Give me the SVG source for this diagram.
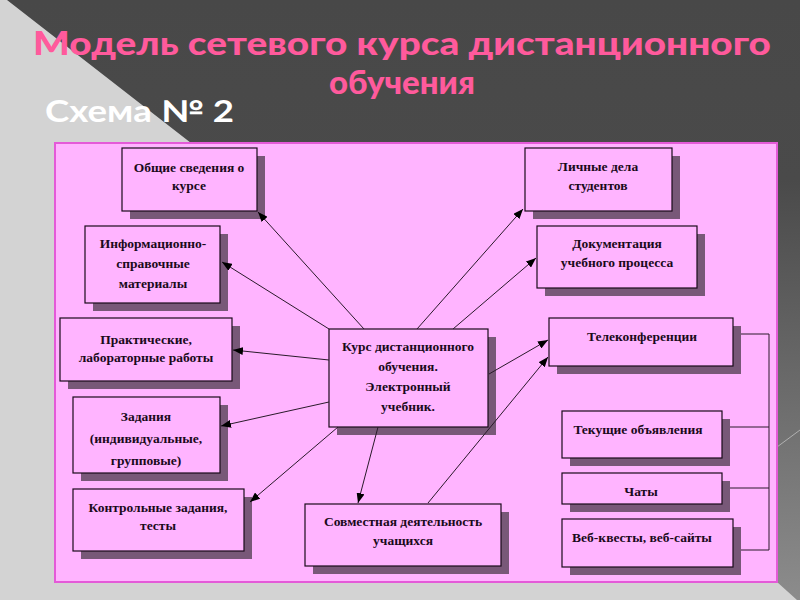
<svg xmlns="http://www.w3.org/2000/svg" width="800" height="600" viewBox="0 0 800 600">
<defs>
<style>
.box{fill:#ffb4ff;stroke:#1a0a1a;stroke-width:1.2}
.sh{fill:#785878}
.t{font-family:"Liberation Serif","Times New Roman",serif;font-size:13.5px;font-weight:bold;fill:#1a0a1a;text-anchor:middle}
.c{stroke:#2a1a2a;stroke-width:1;fill:none}
.ttl{font-family:Lato,"Open Sans",sans-serif;font-weight:900;fill:#ff5a9c;text-anchor:middle}
</style>
<marker id="ah" viewBox="0 0 10 8" refX="10" refY="4" markerWidth="10" markerHeight="8" markerUnits="userSpaceOnUse" orient="auto">
<path d="M0,0 L10,4 L0,8 Z" fill="#000"/>
</marker>
<linearGradient id="dg" x1="0" y1="0" x2="0" y2="1">
<stop offset="0" stop-color="#484848"/>
<stop offset="0.3" stop-color="#4a4a4a"/>
<stop offset="1" stop-color="#8c8c8c"/>
</linearGradient>
</defs>
<rect width="800" height="600" fill="#d3d3d3"/>
<polygon points="7,0 800,0 800,600 797,600 777,582 200,150" fill="url(#dg)"/>
<line x1="777" y1="447" x2="800" y2="430" stroke="#b0b0b0" stroke-width="1"/>
<text class="ttl" x="402" y="55" font-size="33" textLength="738" lengthAdjust="spacingAndGlyphs">Модель сетевого курса дистанционного</text>
<text class="ttl" x="402" y="94" font-size="33">обучения</text>
<text x="45" y="122" font-family="Lato,'Open Sans',sans-serif" font-weight="bold" font-size="30" fill="#ffffff" textLength="189" lengthAdjust="spacingAndGlyphs">Схема № 2</text>
<rect x="55" y="143" width="722" height="439" fill="#ffb4ff" stroke="#e45ad8" stroke-width="2"/>
<g id="n-obshchie"><rect class="sh" x="130" y="156" width="135" height="63"/><rect class="box" x="122" y="148" width="135" height="63"/><text class="t" x="189" y="172">Общие сведения о</text><text class="t" x="189" y="190">курсе</text></g>
<g id="n-info"><rect class="sh" x="93" y="234" width="135" height="77"/><rect class="box" x="85" y="226" width="135" height="77"/><text class="t" x="153" y="248">Информационно-</text><text class="t" x="153" y="268">справочные</text><text class="t" x="153" y="288">материалы</text></g>
<g id="n-prakt"><rect class="sh" x="68" y="326" width="172" height="63"/><rect class="box" x="60" y="318" width="172" height="63"/><text class="t" x="146" y="344">Практические,</text><text class="t" x="146" y="362">лабораторные работы</text></g>
<g id="n-zadaniya"><rect class="sh" x="81" y="405" width="147" height="76"/><rect class="box" x="73" y="397" width="147" height="76"/><text class="t" x="146" y="421">Задания</text><text class="t" x="146" y="443">(индивидуальные,</text><text class="t" x="146" y="465">групповые)</text></g>
<g id="n-kontrol"><rect class="sh" x="81" y="497" width="171" height="62"/><rect class="box" x="73" y="489" width="171" height="62"/><text class="t" x="158" y="512">Контрольные задания,</text><text class="t" x="158" y="530">тесты</text></g>
<g id="n-kurs"><rect class="sh" x="337" y="337" width="159" height="98"/><rect class="box" x="329" y="329" width="159" height="98"/><text class="t" x="408" y="351">Курс дистанционного</text><text class="t" x="408" y="371">обучения.</text><text class="t" x="408" y="391">Электронный</text><text class="t" x="408" y="411">учебник.</text></g>
<g id="n-sovm"><rect class="sh" x="313" y="512" width="196" height="62"/><rect class="box" x="305" y="504" width="196" height="62"/><text class="t" x="403" y="526">Совместная деятельность</text><text class="t" x="403" y="545">учащихся</text></g>
<g id="n-lichnye"><rect class="sh" x="533" y="156" width="147" height="63"/><rect class="box" x="525" y="148" width="147" height="63"/><text class="t" x="598" y="171">Личные дела</text><text class="t" x="598" y="190">студентов</text></g>
<g id="n-dokum"><rect class="sh" x="545" y="234" width="160" height="62"/><rect class="box" x="537" y="226" width="160" height="62"/><text class="t" x="617" y="248">Документация</text><text class="t" x="617" y="267">учебного процесса</text></g>
<g id="n-telekonf"><rect class="sh" x="557" y="326" width="184" height="48"/><rect class="box" x="549" y="318" width="184" height="48"/><text class="t" x="642" y="341">Телеконференции</text></g>
<g id="n-tekushchie"><rect class="sh" x="570" y="419" width="160" height="47"/><rect class="box" x="562" y="411" width="160" height="47"/><text class="t" x="638" y="434">Текущие объявления</text></g>
<g id="n-chaty"><rect class="sh" x="570" y="481" width="160" height="31"/><rect class="box" x="562" y="473" width="160" height="31"/><text class="t" x="641" y="496">Чаты</text></g>
<g id="n-veb"><rect class="sh" x="570" y="527" width="171" height="48"/><rect class="box" x="562" y="519" width="171" height="48"/><text class="t" x="642" y="542">Веб-квесты, веб-сайты</text></g>
<g id="connectors">
<line class="c" x1="364" y1="329" x2="258" y2="212" marker-end="url(#ah)"/>
<line class="c" x1="329" y1="329" x2="222" y2="262" marker-end="url(#ah)"/>
<line class="c" x1="329" y1="360" x2="233" y2="350" marker-end="url(#ah)"/>
<line class="c" x1="329" y1="402" x2="221" y2="426" marker-end="url(#ah)"/>
<line class="c" x1="338" y1="427" x2="250" y2="502" marker-end="url(#ah)"/>
<line class="c" x1="378" y1="427" x2="358" y2="503" marker-end="url(#ah)"/>
<line class="c" x1="417" y1="329" x2="523" y2="209" marker-end="url(#ah)"/>
<line class="c" x1="453" y1="329" x2="536" y2="258" marker-end="url(#ah)"/>
<line class="c" x1="489" y1="374" x2="548" y2="340" marker-end="url(#ah)"/>
<line class="c" x1="428" y1="503" x2="548" y2="357" marker-end="url(#ah)"/>
<polyline class="c" points="741,334 769,334 769,550 741,550"/>
<line class="c" x1="730" y1="427" x2="769" y2="427"/>
<line class="c" x1="730" y1="488" x2="769" y2="488"/>
</g>
</svg>
